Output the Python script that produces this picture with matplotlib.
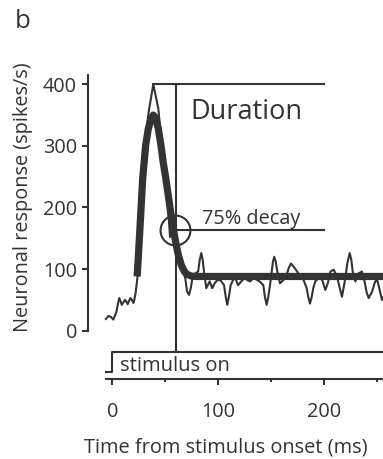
import matplotlib
matplotlib.use("Agg")
import matplotlib.pyplot as plt

plt.rcParams['font.family'] = ['Open Sans', 'DejaVu Sans']

resp_t = [-6, -3.5, -1.2, 1, 4, 5.5, 6.6, 8, 9, 10.5, 12, 13.3, 14.5, 16, 17, 18.5, 20, 21,
          22, 23, 24, 27, 30, 32.4, 34.6, 38.7, 43.4, 46, 49, 51.5, 53, 54.5, 55.8, 58, 60,
          63, 66, 68.9, 70.5, 72.4, 74.2, 76, 78.5, 81, 82.5, 84, 85.3, 86.5, 88.7, 91.9,
          94.3, 96.6, 99, 102, 105.4, 107, 108.5, 110, 111.7, 115.5, 118.6, 121.7, 125,
          127.5, 130, 133, 136, 139, 142.5, 144, 145.6, 147.2, 148.8, 150.4, 151.6, 152.8,
          154.2, 155.7, 158.2, 161.3, 164, 166.5, 168.6, 172.4, 175.5, 178.7, 181, 183.4,
          185, 186.5, 188, 189.6, 191.5, 196, 198.5, 201, 203.5, 205.7, 208.9, 212, 214.5,
          216.7, 219.8, 221.8, 224, 225.5, 226.8, 229.2, 232.3, 235.5, 238, 240, 241.9,
          245, 248, 250, 252, 254.4, 256]
resp_v = [19, 24, 22, 18, 31, 45, 53, 47, 42, 46, 50, 47, 43, 49, 53, 50, 45, 52,
          61, 75, 90, 190, 270, 330, 358, 400, 361, 315, 275, 240, 190, 152, 172, 170, 150,
          120, 100, 85, 64, 58, 70, 90, 93, 96, 115, 126, 115, 96, 69, 80,
          69, 77, 82, 82, 74, 55, 42, 55, 74, 88, 74, 80, 86,
          82, 80, 85, 83, 80, 74, 55, 42, 55, 74, 96, 112, 120,
          112, 96, 77, 82, 88, 102, 109, 101, 93, 88, 80, 69,
          54, 44, 54, 69, 80, 88, 80, 66, 78, 96, 99, 88, 70,
          55, 85, 110, 126, 115, 96, 80, 93, 96, 80, 62, 53,
          63, 80, 82, 68, 50, 55]

# Fitted response (thick curve)
fit_t = [23.5, 26.1, 28.7, 31.5, 34, 36.5, 38.7, 41, 43.4, 46, 48, 50.5, 52.8, 55, 57.5,
         60, 62.3, 65, 68, 71, 75, 80, 256]
fit_v = [88, 166, 247, 301, 328, 343, 350, 345, 328, 300, 274, 247, 220, 193, 166,
         142, 123, 107, 96, 91, 88.5, 88, 88]

# Annotation values
peak_t, peak_v = 38.7, 400
dur_end_t = 60
decay_t, decay_v = 59.3, 164
line_end_t = 200
stim_t = [-6, 0, 0, 256]
stim_v = [-66.5, -66.5, -34, -34]

x_ticks_major = [0, 100, 200]
x_ticks_minor = [50, 150, 250]
y_ticks = [0, 100, 200, 300, 400]

col = '#333333'

fig = plt.figure(figsize=(3.83, 4.59), dpi=100)
ax = fig.add_axes([88/383, (459-379)/459, 1 - 88/383, (379-75)/459])

ax.plot(resp_t, resp_v, color=col, lw=1.5, solid_joinstyle='round', zorder=3)
ax.plot(fit_t, fit_v, color=col, lw=5.2, solid_capstyle='butt', solid_joinstyle='round', zorder=4)

ax.plot([peak_t, line_end_t], [peak_v, peak_v], color=col, lw=1.5)
ax.plot([dur_end_t, dur_end_t], [peak_v, -34], color=col, lw=1.5)
ax.plot([dur_end_t, line_end_t], [decay_v, decay_v], color=col, lw=1.5)
ax.plot([decay_t], [decay_v], marker='o', ms=21.5, mfc='none', mec=col, mew=1.5, zorder=5)
ax.plot(stim_t, stim_v, color=col, lw=1.5)

ax.text(73.5, 355, 'Duration', fontsize=19.5, color=col, va='center', ha='left')
ax.text(84.5, 182, '75% decay', fontsize=14.3, color=col, va='center', ha='left')
ax.text(7.3, -57, 'stimulus on', fontsize=14.5, color=col, va='center', ha='left')

ax.set_xlim(-22.9, 255.4)
ax.set_ylim(-78.4, 415)

for s in ['top', 'right']:
    ax.spines[s].set_visible(False)
ax.spines['left'].set_bounds(0, 415)
ax.spines['bottom'].set_bounds(-6, 255.4)
for s in ['left', 'bottom']:
    ax.spines[s].set_color(col)
    ax.spines[s].set_linewidth(1.5)

ax.set_xticks(x_ticks_major)
ax.set_xticks(x_ticks_minor, minor=True)
ax.set_yticks(y_ticks)
ax.tick_params(axis='x', which='major', length=4.5, width=1.5, color=col, pad=12,
               labelsize=14.3, labelcolor=col)
ax.tick_params(axis='x', which='minor', length=2.5, width=1.5, color=col)
ax.tick_params(axis='y', length=4, width=1.5, color=col, pad=4, labelsize=14.3, labelcolor=col)

ax.set_xlabel('Time from stimulus onset (ms)', fontsize=14.4, color=col)
ax.set_ylabel('Neuronal response (spikes/s)', fontsize=14.3, color=col)
ax.xaxis.set_label_coords((226 - 88) / 295, (379 - 437) / 304)
ax.yaxis.set_label_coords((33 - 88) / 295, (379 - 197) / 304)

fig.text(15/383, 1 - 22/459, 'b', fontsize=18.5, color=col, va='center', ha='left')

fig.savefig('out.png', dpi=100)
